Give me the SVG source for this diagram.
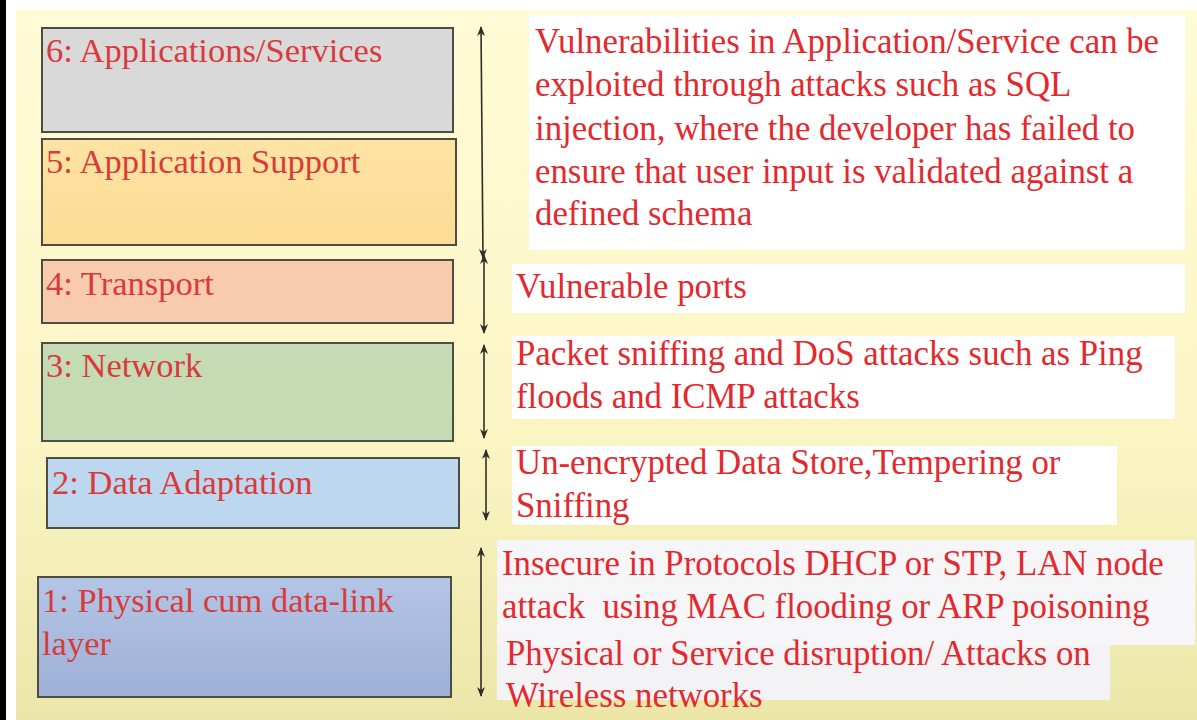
<svg xmlns="http://www.w3.org/2000/svg" width="1197" height="720" viewBox="0 0 1197 720">
  <defs>
    <linearGradient id="slideBg" x1="0" y1="0" x2="0" y2="1">
      <stop offset="0" stop-color="#fffbd6"/>
      <stop offset="0.6" stop-color="#fbf5c4"/>
      <stop offset="1" stop-color="#ebe6a8"/>
    </linearGradient>
    <linearGradient id="phyFill" x1="0" y1="0" x2="0" y2="1">
      <stop offset="0" stop-color="#b4c6e6"/>
      <stop offset="1" stop-color="#9db0d6"/>
    </linearGradient>
    <linearGradient id="supFill" x1="0" y1="0" x2="0" y2="1">
      <stop offset="0" stop-color="#fee3a3"/>
      <stop offset="1" stop-color="#fcdc94"/>
    </linearGradient>
    <marker id="tip" viewBox="0 0 10 8" refX="9" refY="4" markerWidth="10" markerHeight="8" markerUnits="userSpaceOnUse" orient="auto-start-reverse">
      <path d="M0,0 L10,4 L0,8 L3,4 z" fill="#2f2f2a"/>
    </marker>
    <style>
      .layer { stroke: #4d4d46; stroke-width: 2; }
      .label { font-family: "Liberation Serif", "Times New Roman", serif; font-size: 34.5px; fill: #d93a3c; }
      .note { fill: #ffffff; }
      .desc { font-family: "Liberation Serif", "Times New Roman", serif; font-size: 34.8px; fill: #e3292d; white-space: pre; }
      .link { stroke: #2f2f2a; stroke-width: 1.6; fill: none; marker-start: url(#tip); marker-end: url(#tip); }
    </style>
  </defs>

  <!-- frame and slide background -->
  <rect x="0" y="0" width="1197" height="720" fill="#ffffff"/>
  <rect x="16" y="10" width="1181" height="710" fill="url(#slideBg)"/>
  <rect x="0" y="0" width="6" height="720" fill="#000000"/>

  <!-- protocol layers -->
  <g id="layer6">
    <rect class="layer" x="42" y="28" width="411" height="104" fill="#d9d9d9"/>
    <text class="label" x="46" y="62">6: Applications/Services</text>
  </g>
  <g id="layer5">
    <rect class="layer" x="42" y="139" width="414" height="106" fill="url(#supFill)"/>
    <text class="label" x="46" y="173">5: Application Support</text>
  </g>
  <g id="layer4">
    <rect class="layer" x="42" y="260" width="411" height="63" fill="#f8cbad"/>
    <text class="label" x="46" y="295">4: Transport</text>
  </g>
  <g id="layer3">
    <rect class="layer" x="42" y="343" width="411" height="98" fill="#c5dbb4"/>
    <text class="label" x="46" y="377">3: Network</text>
  </g>
  <g id="layer2">
    <rect class="layer" x="47" y="458" width="412" height="70" fill="#bdd7ee"/>
    <text class="label" x="52" y="494">2: Data Adaptation</text>
  </g>
  <g id="layer1">
    <rect class="layer" x="38" y="577" width="413" height="120" fill="url(#phyFill)"/>
    <text class="label" x="42" y="612">1: Physical cum data-link</text>
    <text class="label" x="42" y="655">layer</text>
  </g>

  <!-- threat descriptions -->
  <g id="threat-app">
    <rect class="note" x="529" y="15" width="656" height="235"/>
    <text class="desc" x="535" y="53">Vulnerabilities in Application/Service can be</text>
    <text class="desc" x="535" y="96">exploited through attacks such as SQL</text>
    <text class="desc" x="535" y="140">injection, where the developer has failed to</text>
    <text class="desc" x="535" y="183">ensure that user input is validated against a</text>
    <text class="desc" x="535" y="225">defined schema</text>
  </g>
  <g id="threat-transport">
    <rect class="note" x="512" y="264" width="673" height="49"/>
    <text class="desc" x="516" y="298">Vulnerable ports</text>
  </g>
  <g id="threat-network">
    <rect class="note" x="512" y="336" width="663" height="83"/>
    <text class="desc" x="516" y="365">Packet sniffing and DoS attacks such as Ping</text>
    <text class="desc" x="516" y="408">floods and ICMP attacks</text>
  </g>
  <g id="threat-data">
    <rect class="note" x="512" y="446" width="605" height="79"/>
    <text class="desc" x="516" y="474">Un-encrypted Data Store,Tempering or</text>
    <text class="desc" x="516" y="517">Sniffing</text>
  </g>
  <g id="threat-physical">
    <rect x="497" y="540" width="698" height="105" fill="#f6f6f8"/>
    <rect x="497" y="645" width="613" height="55" fill="#f3f3f6"/>
    <text class="desc" x="502" y="575">Insecure in Protocols DHCP or STP, LAN node</text>
    <text class="desc" x="502" y="618">attack  using MAC flooding or ARP poisoning</text>
    <text class="desc" x="506" y="665">Physical or Service disruption/ Attacks on</text>
    <text class="desc" x="506" y="707" fill="#d2361e">Wireless networks</text>
  </g>

  <!-- span arrows linking layers to threats -->
  <g id="connectors">
    <line class="link" x1="481" y1="27" x2="483" y2="258"/>
    <line class="link" x1="484" y1="255" x2="484" y2="333"/>
    <line class="link" x1="484" y1="345" x2="484" y2="438"/>
    <line class="link" x1="486" y1="450" x2="486" y2="520"/>
    <line class="link" x1="481" y1="548" x2="481" y2="696"/>
  </g>
</svg>
